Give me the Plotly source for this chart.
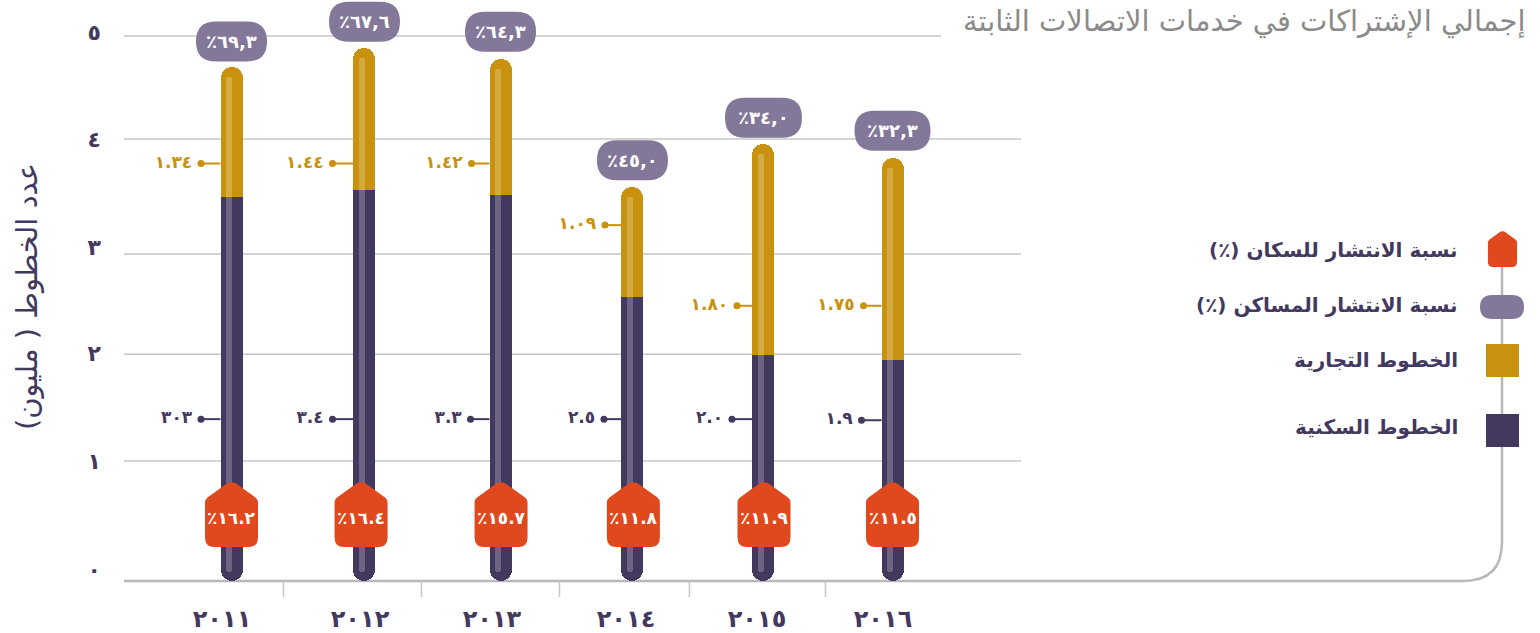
import plotly.graph_objects as go

# ---- data -----------------------------------------------------------------
years = ["٢٠١١", "٢٠١٢", "٢٠١٣", "٢٠١٤", "٢٠١٥", "٢٠١٦"]
year_slots = [0, 1.006, 2.035, 3.033, 4.024, 5.0]
year_label_slots = [-0.072, 0.972, 1.97, 2.984, 3.975, 4.928]
slot_edges = [0.393, 1.437, 2.481, 3.464, 4.493]
residential = [3.52, 3.59, 3.54, 2.605, 2.07, 2.03]
commercial = [1.195, 1.30, 1.25, 1.01, 1.94, 1.85]
residential_labels = ["٣٠٣", "٣.٤", "٣.٣", "٢.٥", "٢.٠", "١.٩"]
commercial_labels = ["١.٣٤", "١.٤٤", "١.٤٢", "١.٠٩", "١.٨٠", "١.٧٥"]
residential_callout = [1.485, 1.485, 1.485, 1.485, 1.485, 1.475]
commercial_callout = [3.83, 3.83, 3.83, 3.265, 2.525, 2.525]
household_labels = ["٪٦٩,٣", "٪٦٧,٦", "٪٦٤,٣", "٪٤٥,٠", "٪٣٤,٠", "٪٣٢,٣"]
household_level = [4.95, 5.13, 5.04, 3.86, 4.25, 4.13]
household_width = [71, 71, 71, 71, 77, 76]
population_labels = ["٪١٦.٢", "٪١٦.٤", "٪١٥.٧", "٪١١.٨", "٪١١.٩", "٪١١.٥"]
population_level = [0.61] * 6
population_slots = [0, 0.98, 2.039, 3.04, 4.028, 5.0]
y_ticks = ["٠", "١", "٢", "٣", "٤", "٥"]
y_tick_at = [0.11, 1.10, 2.09, 3.06, 4.055, 5.03]
grid_levels = [1.10, 2.08, 3.0, 4.055]
top_grid_level = 5.0

title = "إجمالي الإشتراكات في خدمات الاتصالات الثابتة"
y_title = "\u202bعدد الخطوط ( مليون)\u202c"
legend_entries = [
    ("\u202bنسبة الانتشار للسكان (٪)\u202c", 250),
    ("\u202bنسبة الانتشار المساكن (٪)\u202c", 305),
    ("الخطوط التجارية", 360),
    ("الخطوط السكنية", 427),
]

# ---- style ------------------------------------------------------------------
W, H = 1540, 633
DARK, GOLD, PURPLE, ORANGE = "#43395F", "#C8920E", "#83779A", "#E0491D"
GRID, AXIS = "#C6C6C6", "#B8B8B8"
FONT = "DejaVu Sans"
SLOT = 132.2
SCALE = 109.0
X0 = 231.5
BASE_PX = 581
commercial_reach = [30.5, 32, 29, 27.5, 26.5, 29]
residential_reach = [30.5, 32, 30, 28.5, 31.5, 31]
dx = lambda px: px / SLOT
dy = lambda px: px / SCALE
px_x = lambda p: p / W
px_y = lambda p: 1 - p / H

fig = go.Figure()
BAR = dx(22)
CAP = dy(11)
tops = [r + c for r, c in zip(residential, commercial)]


def bar(base, h, color, r=0, x=year_slots, width=BAR):
    fig.add_trace(go.Bar(x=x, y=h, base=base, width=width, marker_color=color,
                         marker_line_width=0, marker_cornerradius=r,
                         showlegend=False, hoverinfo="skip"))


bar([0] * 6, tops, GOLD, 11)
bar([0] * 6, [CAP * 3] * 6, DARK, 11)
bar([CAP] * 6, [r - CAP for r in residential], DARK)
hx = [s - dx(2.5) for s in year_slots]
bar([dy(9)] * 6, [t - dy(19) for t in tops], "rgba(255,255,255,0.22)", 3, hx, dx(6))


def callouts(levels, labels, reach, color):
    dots = [s - dx(r) for s, r in zip(year_slots, reach)]
    xs, ys = [], []
    for s, d, v in zip(year_slots, dots, levels):
        xs += [d, s - dx(11), None]
        ys += [v, v, None]
    fig.add_trace(go.Scatter(x=xs, y=ys, mode="lines", line=dict(color=color, width=2),
                             showlegend=False, hoverinfo="skip"))
    fig.add_trace(go.Scatter(x=dots, y=levels, mode="markers+text",
                             marker=dict(color=color, size=7), text=[t + "\u2009" for t in labels],
                             textposition="middle left",
                             textfont=dict(family=FONT, size=17, color=color, weight="bold"),
                             showlegend=False, hoverinfo="skip"))


callouts(commercial_callout, commercial_labels, commercial_reach, GOLD)
callouts(residential_callout, residential_labels, residential_reach, DARK)


def pill_path(w, h=40):
    a, b, r = w / 2, h / 2, h / 2
    return (f"M{-a + r},{-b} L{a - r},{-b} Q{a},{-b} {a},0 Q{a},{b} {a - r},{b} "
            f"L{-a + r},{b} Q{-a},{b} {-a},0 Q{-a},{-b} {-a + r},{-b} Z")


def house_path(k=1.0):
    pts = "M-26.5,-23 L-26.5,12 Q-26.5,15 -24,17 L-6,30 Q0,34.5 6,30 L24,17 Q26.5,15 26.5,12 L26.5,-23 Q26.5,-32.5 17,-32.5 L-17,-32.5 Q-26.5,-32.5 -26.5,-23 Z"
    out = []
    for tok in pts.split():
        cmd = tok[0] if tok[0].isalpha() else ""
        body = tok[1:] if cmd else tok
        if "," in body:
            a, b = body.split(",")
            out.append(f"{cmd}{float(a) * k:.2f},{float(b) * k:.2f}")
        else:
            out.append(tok)
    return " ".join(out)


shapes = []


def anchored(path, xa, ya, xref="x", yref="y", color=None, line=None, layer="above"):
    shapes.append(dict(type="path", path=path, xref=xref, yref=yref, xsizemode="pixel", ysizemode="pixel",
                       xanchor=xa, yanchor=ya, layer=layer,
                       fillcolor=color if color else "rgba(0,0,0,0)",
                       line=line if line else dict(width=0)))


# gridlines
for lv in grid_levels:
    shapes.append(dict(type="line", xref="x", yref="y", x0=(124 - X0) / SLOT, x1=(1021 - X0) / SLOT,
                       y0=lv, y1=lv, layer="below", line=dict(color=GRID, width=1.5)))
shapes.append(dict(type="line", xref="x", yref="y", x0=(124 - X0) / SLOT, x1=(941 - X0) / SLOT,
                   y0=top_grid_level, y1=top_grid_level, layer="below", line=dict(color=GRID, width=1.5)))
# base line running into the legend rail
anchored(f"M124,{H - BASE_PX} L1463,{H - BASE_PX} Q1502,{H - BASE_PX} 1502,{H - 542} L1502,{H - 240}",
         0, 0, "paper", "paper", None, dict(color=AXIS, width=2.5), "below")
# separators below the axis
for e in slot_edges:
    shapes.append(dict(type="line", xref="x", yref="paper", x0=e, x1=e, y0=px_y(BASE_PX), y1=px_y(BASE_PX + 16),
                       layer="below", line=dict(color=GRID, width=1.5)))
# pills and houses
for s, lv, w in zip(year_slots, household_level, household_width):
    anchored(pill_path(w), s, lv, color=PURPLE)
for s, lv in zip(population_slots, population_level):
    anchored(house_path(), s, lv, color=ORANGE)
# legend keys
anchored(house_path(0.55), px_x(1502.5), px_y(249), "paper", "paper", ORANGE)
anchored(pill_path(44, 24), px_x(1502), px_y(307), "paper", "paper", PURPLE)
for top, c in ((344, GOLD), (414, DARK)):
    shapes.append(dict(type="rect", xref="paper", yref="paper", x0=px_x(1486), x1=px_x(1519),
                       y0=px_y(top + 33), y1=px_y(top), fillcolor=c, line=dict(width=0), layer="above"))

ann = []
for s, lv, t in zip(year_slots, household_level, household_labels):
    ann.append(dict(x=s, y=lv, xref="x", yref="y", text=t, showarrow=False,
                    font=dict(family=FONT, size=18, color="white", weight="bold")))
for s, lv, t in zip(population_slots, population_level, population_labels):
    ann.append(dict(x=s, y=lv, xref="x", yref="y", text=t, showarrow=False, yshift=-3,
                    font=dict(family=FONT, size=17, color="white", weight="bold")))
ann.append(dict(x=px_x(1528), y=px_y(22), xref="paper", yref="paper", xanchor="right", yanchor="middle", text=title,
                showarrow=False, font=dict(family=FONT, size=29, color="#8A8A8A")))
ann.append(dict(x=px_x(27), y=px_y(297), xref="paper", yref="paper", xanchor="center", yanchor="middle",
                text=y_title, textangle=-90,
                showarrow=False, font=dict(family=FONT, size=29, color=DARK)))
for t, py in legend_entries:
    ann.append(dict(x=px_x(1460), y=px_y(py), xref="paper", yref="paper", xanchor="right", yanchor="middle", text=t,
                    showarrow=False, font=dict(family=FONT, size=20, color=DARK, weight="bold")))

fig.update_layout(
    width=W, height=H, margin=dict(l=0, r=0, t=0, b=0), autosize=False,
    barmode="overlay", bargap=0,
    plot_bgcolor="white", paper_bgcolor="white",
    shapes=shapes, annotations=ann,
    xaxis=dict(domain=[px_x(124), px_x(1021)], range=[(124 - X0) / SLOT, (1021 - X0) / SLOT],
               tickmode="array", tickvals=year_label_slots, ticktext=years, ticks="", showgrid=False,
               zeroline=False, showline=False, ticklabelstandoff=21,
               tickfont=dict(family=FONT, size=24, color=DARK, weight="bold")),
    yaxis=dict(domain=[(H - BASE_PX) / H, 1], range=[0, BASE_PX / SCALE],
               tickmode="array", tickvals=y_tick_at, ticktext=y_ticks, ticks="", showgrid=False,
               zeroline=False, showline=False, ticklabelstandoff=22,
               tickfont=dict(family=FONT, size=22, color=DARK, weight="bold")),
)
fig.write_html("out.html", config=dict(displayModeBar=False),
               post_script="document.body.style.margin='0';document.body.style.overflow='hidden';")
